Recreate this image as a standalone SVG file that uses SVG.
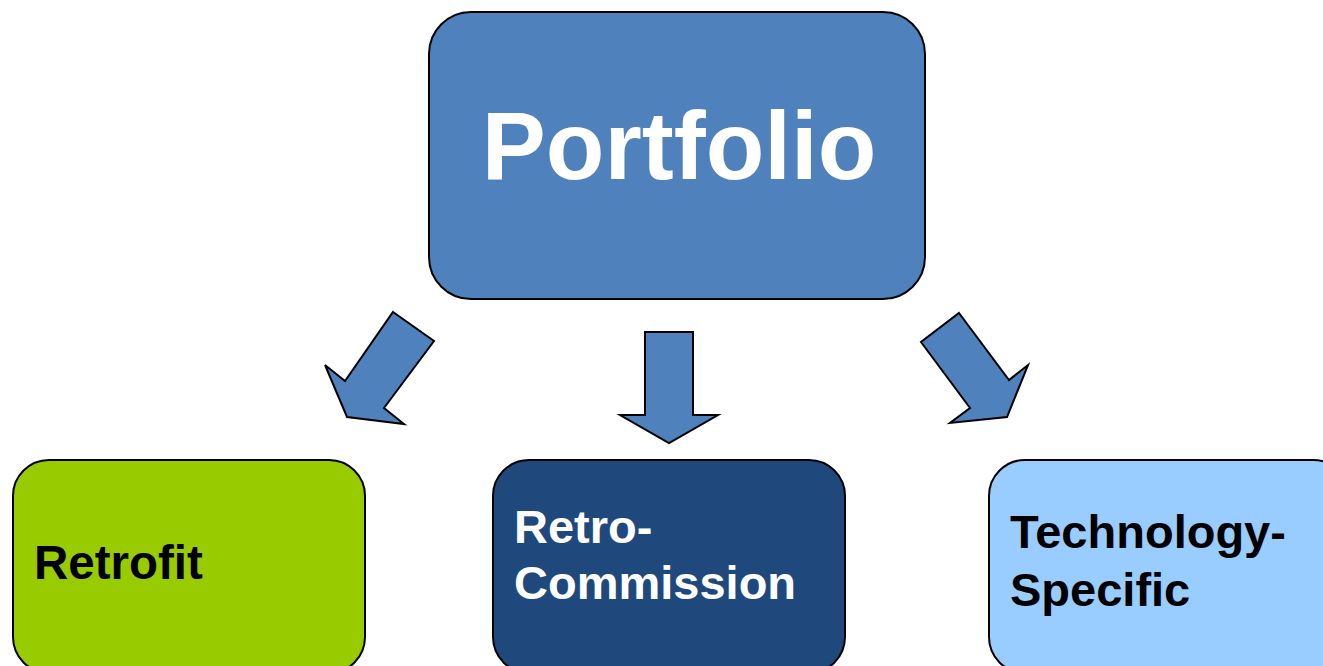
<svg xmlns="http://www.w3.org/2000/svg" width="1323" height="666" viewBox="0 0 1323 666">
  <style>
    .box { stroke: #000; stroke-width: 2; }
    .arrow { fill: #4F81BD; stroke: #000; stroke-width: 2; stroke-linejoin: miter; }
    .lbl { font-family: "Liberation Sans", Arial, sans-serif; font-weight: bold; }
  </style>
  <rect width="1323" height="666" fill="#FFFFFF"/>

  <g id="portfolio">
    <rect class="box" x="429" y="12" width="496" height="287" rx="42" ry="42" fill="#4F81BD"/>
    <text class="lbl" x="679" y="179" font-size="96" fill="#FFFFFF" text-anchor="middle">Portfolio</text>
  </g>

  <g id="connectors">
    <polygon class="arrow" points="393,312 434,341 384,408 404,424 347,417 325,365 345,381"/>
    <polygon class="arrow" points="645,332 693,332 693,415 718,415 669,443 620,415 645,415"/>
    <polygon class="arrow" points="959,313 1009,380 1028,365 1007,417 950,423 970,408 921,342"/>
  </g>

  <g id="retrofit">
    <rect class="box" x="13" y="460" width="352" height="213" rx="36" ry="36" fill="#99CC00"/>
    <text class="lbl" x="34" y="579" font-size="47.5" fill="#000000">Retrofit</text>
  </g>

  <g id="retro-commission">
    <rect class="box" x="493" y="460" width="352" height="213" rx="36" ry="36" fill="#1F497D"/>
    <text class="lbl" font-size="47" fill="#FFFFFF">
      <tspan x="514" y="543">Retro-</tspan>
      <tspan x="514" y="599">Commission</tspan>
    </text>
  </g>

  <g id="technology-specific">
    <rect class="box" x="989" y="460" width="360" height="213" rx="36" ry="36" fill="#99CCFF"/>
    <text class="lbl" font-size="47" fill="#000000">
      <tspan x="1010" y="548">Technology-</tspan>
      <tspan x="1010" y="606">Specific</tspan>
    </text>
  </g>
</svg>
